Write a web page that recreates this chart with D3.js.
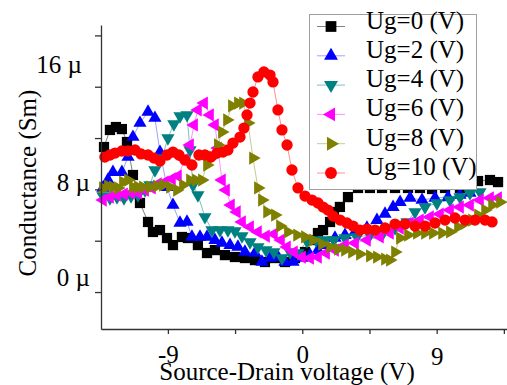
<!DOCTYPE html>
<html><head><meta charset="utf-8">
<script src="https://cdn.jsdelivr.net/npm/d3@7"></script>
<style>body{margin:0;background:#fff}svg{display:block}</style>
</head><body><svg id="c" width="507" height="385"></svg>
<script>
// ---- data (Source-Drain voltage V, Conductance µS) ----
const seriesNames = ["Ug=0 (V)","Ug=2 (V)","Ug=4 (V)","Ug=6 (V)","Ug=8 (V)","Ug=10 (V)"];
const ug0 = [[-13.28,11.3],[-12.88,12.63],[-12.48,12.86],[-12.08,12.7],[-11.74,11.69],[-11.34,9.12],[-10.87,6.94],[-10.33,5.46],[-10.0,4.68],[-9.53,4.83],[-9.06,4.21],[-8.66,3.66],[-8.06,4.29],[-7.66,4.21],[-6.99,3.66],[-6.38,3.04],[-5.85,3.27],[-5.18,2.88],[-4.51,2.73],[-3.84,2.65],[-3.17,2.49],[-2.5,2.34],[-1.83,2.65],[-1.16,2.34],[-0.49,2.65],[0.18,3.12],[0.65,4.05],[1.05,4.6],[1.39,4.83],[1.86,5.46],[2.12,6.24],[2.52,6.63],[3.06,7.4],[3.73,8.11],[4.53,8.11],[5.34,8.11],[6.21,8.11],[7.08,8.11],[7.88,8.11],[8.69,8.03],[9.56,8.11],[10.56,8.11],[11.77,8.65],[12.57,8.73],[13.11,8.57]];
const ug2 = [[-13.35,8.11],[-13.01,8.73],[-12.68,9.35],[-12.08,9.35],[-11.67,10.52],[-11.34,12.08],[-10.87,13.17],[-10.33,14.03],[-9.87,13.56],[-9.53,10.91],[-9.06,8.18],[-8.66,6.78],[-8.19,5.38],[-7.72,5.46],[-7.39,4.29],[-6.85,4.29],[-6.38,4.29],[-5.85,4.05],[-5.38,3.82],[-4.84,3.66],[-4.31,3.51],[-3.84,3.12],[-3.17,3.04],[-2.7,2.34],[-2.16,2.65],[-1.63,2.73],[-1.16,2.34],[-0.62,2.34],[-0.02,2.65],[0.52,2.88],[1.05,3.27],[1.59,3.66],[2.19,4.21],[2.86,4.44],[3.53,4.68],[4.33,4.99],[5.0,5.61],[5.54,6.08],[6.08,6.62],[6.55,7.01],[7.22,7.33],[8.02,7.17],[8.89,7.33],[9.76,7.4],[10.56,7.56],[11.23,7.72]];
const ug4 = [[-13.35,7.48],[-12.88,7.33],[-12.41,7.4],[-11.94,7.33],[-11.47,7.48],[-11.0,7.56],[-10.53,7.95],[-10.2,8.34],[-9.87,9.51],[-9.4,10.44],[-9.0,12.0],[-8.6,13.09],[-8.19,13.72],[-7.72,13.8],[-7.52,11.07],[-7.32,8.34],[-6.99,7.56],[-6.52,5.85],[-6.05,4.83],[-5.51,4.83],[-4.98,4.83],[-4.51,4.75],[-4.04,4.36],[-3.5,3.9],[-2.97,3.51],[-2.43,3.27],[-1.9,3.12],[-1.36,2.65],[-0.82,3.12],[-0.29,3.04],[0.31,3.97],[0.92,4.05],[1.52,4.05],[2.12,4.05],[2.86,4.21],[3.66,4.29],[4.53,4.44],[5.41,4.6],[6.21,4.99],[7.01,5.46],[7.55,6.24],[8.22,6.62],[9.02,6.94],[9.89,7.17],[10.56,7.4],[11.23,7.72],[11.9,7.79]];
const ug6 = [[-13.35,7.17],[-12.88,7.4],[-12.41,7.56],[-11.94,7.64],[-11.47,7.72],[-11.0,7.72],[-10.53,7.95],[-10.07,8.11],[-9.67,8.42],[-9.2,8.57],[-8.73,8.81],[-8.33,9.04],[-7.86,10.29],[-7.52,11.46],[-7.25,13.02],[-6.99,14.19],[-6.58,14.73],[-6.18,13.8],[-5.85,13.02],[-5.65,11.22],[-5.38,8.73],[-5.11,7.95],[-4.78,6.78],[-4.38,6.24],[-4.04,5.46],[-3.5,5.07],[-2.97,4.68],[-2.43,4.36],[-1.9,4.52],[-1.43,4.05],[-1.03,3.51],[-0.56,3.12],[-0.02,2.73],[0.52,2.65],[1.05,2.73],[1.59,3.04],[2.19,3.27],[2.86,3.66],[3.53,3.82],[4.33,4.05],[5.2,4.29],[5.87,4.6],[6.54,4.99],[7.21,5.38],[7.88,5.61],[8.55,5.85],[9.22,6.08],[9.89,6.39],[10.56,6.62],[11.23,6.78],[11.9,7.17],[12.57,7.33],[13.11,7.33]];
const ug8 = [[-13.35,8.11],[-13.01,8.26],[-12.68,8.18],[-12.34,8.11],[-12.01,8.57],[-11.67,8.73],[-11.34,8.18],[-11.0,8.18],[-10.67,8.18],[-10.2,8.18],[-9.73,8.26],[-9.33,8.34],[-8.86,8.18],[-8.39,7.95],[-7.99,8.34],[-7.52,8.73],[-7.12,8.73],[-6.72,8.73],[-6.38,9.9],[-5.98,10.52],[-5.65,11.46],[-5.38,12.47],[-5.04,13.41],[-4.71,14.5],[-4.31,14.73],[-3.97,14.73],[-3.64,13.17],[-3.3,10.44],[-2.97,8.11],[-2.7,7.17],[-2.36,6.24],[-1.83,6.0],[-1.49,5.14],[-0.96,4.68],[-0.35,4.44],[0.18,4.29],[0.72,4.05],[1.32,3.74],[1.86,3.51],[2.39,3.35],[2.86,3.27],[3.33,3.12],[3.86,2.96],[4.53,2.81],[5.0,2.73],[5.54,2.57],[5.87,2.49],[6.21,3.12],[6.54,4.21],[7.08,4.44],[7.68,4.6],[8.22,4.6],[8.75,4.6],[9.36,4.6],[9.89,4.68],[10.43,5.07],[10.9,5.38],[11.37,5.61],[11.77,6.0],[12.24,6.39],[12.71,6.78],[13.24,7.01]];
const ug10 = [[-13.22,10.52],[-12.88,10.68],[-12.54,10.83],[-12.08,10.99],[-11.67,10.99],[-11.2,11.07],[-10.8,10.76],[-10.33,10.68],[-9.93,10.44],[-9.53,10.21],[-9.06,10.68],[-8.66,10.91],[-8.26,10.68],[-7.86,10.29],[-7.39,9.9],[-6.92,10.68],[-6.52,10.68],[-6.12,10.52],[-5.71,10.83],[-5.31,10.91],[-4.98,11.07],[-4.64,11.61],[-4.17,12.08],[-3.91,12.78],[-3.7,13.8],[-3.5,14.73],[-3.3,15.59],[-2.97,16.76],[-2.57,17.15],[-2.16,16.91],[-1.96,16.37],[-1.63,14.19],[-1.36,12.63],[-1.02,11.46],[-0.69,9.51],[-0.29,8.11],[0.18,7.48],[0.65,7.17],[1.05,6.94],[1.39,6.62],[1.72,6.39],[2.06,5.92],[2.53,5.61],[2.99,5.38],[3.4,5.14],[3.86,4.83],[4.33,4.91],[4.87,4.83],[5.54,4.99],[6.21,5.3],[6.88,5.3],[7.55,5.14],[8.22,5.14],[8.89,5.38],[9.56,5.61],[10.23,5.77],[10.9,5.61],[11.57,5.61],[12.24,5.61],[12.71,5.46]];
const xTicks = [-9,-4.5,0,4.5,9,13.5];
const xTickLabels = {"-9":"-9","0":"0","9":"9"};
const yTicks = [0,4,8,12,16,20];
const yTickLabels = {"0":"0 µ","8":"8 µ","16":"16 µ"};

// ---- styles ----
const colors = ["#000000","#0000ff","#008080","#ff00ff","#808000","#ff0000"];
const lineColors = ["#808080","#a0a0ff","#80c0c0","#ff90ff","#c8c890","#ff9090"];
const shapes = [
  {t:d3.symbolSquare, s:105, r:0},
  {t:d3.symbolTriangle, s:76, r:0},
  {t:d3.symbolTriangle, s:76, r:180},
  {t:d3.symbolTriangle, s:76, r:-90},
  {t:d3.symbolTriangle, s:76, r:90},
  {t:d3.symbolCircle, s:100, r:0}
];
const font = "'Liberation Serif','Times New Roman',serif";

const svg = d3.select("#c");
const x = d3.scaleLinear().domain([-13.48, 13.71]).range([101, 507]);
const y = d3.scaleLinear().domain([-2.88, 20.81]).range([329, 25]);

const allSeries = [ug0, ug2, ug4, ug6, ug8, ug10];

const gData = svg.append("g");
allSeries.forEach((s, i) => {
  gData.append("path").datum(s)
    .attr("fill","none").attr("stroke", lineColors[i]).attr("stroke-width",1)
    .attr("d", d3.line().x(d => x(d[0])).y(d => y(d[1])));
});
allSeries.forEach((s, i) => {
  const sym = d3.symbol().type(shapes[i].t).size(shapes[i].s);
  gData.append("g").selectAll("path").data(s).join("path")
    .attr("d", sym)
    .attr("transform", d => `translate(${x(d[0])},${y(d[1])}) rotate(${shapes[i].r})`)
    .attr("fill", colors[i]);
});

// axes
const axisColor = "#333";
const xAxis = svg.append("g").attr("transform","translate(0,329)")
  .call(d3.axisBottom(x).tickValues(xTicks).tickSize(5).tickSizeOuter(0)
    .tickFormat(d => xTickLabels[String(d)] || ""));
xAxis.selectAll("path,line").attr("stroke", axisColor).attr("stroke-width",1.3);
xAxis.selectAll("text").attr("font-family", font).attr("font-size",25).attr("fill","#000")
  .attr("dy", d => d === 9 ? "1.1em" : "1.02em");

const yAxis = svg.append("g").attr("transform","translate(101,0)")
  .call(d3.axisLeft(y).tickValues(yTicks).tickSize(6).tickSizeOuter(0)
    .tickFormat(d => yTickLabels[String(d)] || ""));
yAxis.selectAll("path,line").attr("stroke", axisColor).attr("stroke-width",1.3);
const yNudge = {"0":[-2,-15],"8":[-2,-7],"16":[-10,-22]};
yAxis.selectAll("text").attr("font-family", font).attr("font-size",25).attr("fill","#000")
  .attr("transform", d => { const n = yNudge[String(d)] || [0,0]; return `translate(${n[0]},${n[1]})`; });

// axis titles
svg.append("text").attr("x",287).attr("y",380).attr("text-anchor","middle")
  .attr("font-family",font).attr("font-size",25).text("Source-Drain voltage (V)");
svg.append("text").attr("transform","translate(36,183) rotate(-90)").attr("text-anchor","middle")
  .attr("font-family",font).attr("font-size",25).text("Conductance (Sm)");

// legend
const lg = svg.append("g");
lg.append("rect").attr("x",309.5).attr("y",14.5).attr("width",167).attr("height",175)
  .attr("fill","#fff").attr("stroke","#a0a0a0").attr("stroke-width",1);
seriesNames.forEach((name, i) => {
  const cy = 26.5 + i*29.3;
  lg.append("line").attr("x1",317).attr("x2",345).attr("y1",cy).attr("y2",cy)
    .attr("stroke", lineColors[i]).attr("stroke-width",1);
  lg.append("path").attr("d", d3.symbol().type(shapes[i].t).size(shapes[i].s*1.1)())
    .attr("transform",`translate(331,${cy}) rotate(${shapes[i].r})`).attr("fill",colors[i]);
  lg.append("text").attr("x",366).attr("y",cy+2).attr("font-family",font).attr("font-size",25)
    .attr("fill","#000").text(name);
});
</script></body></html>
